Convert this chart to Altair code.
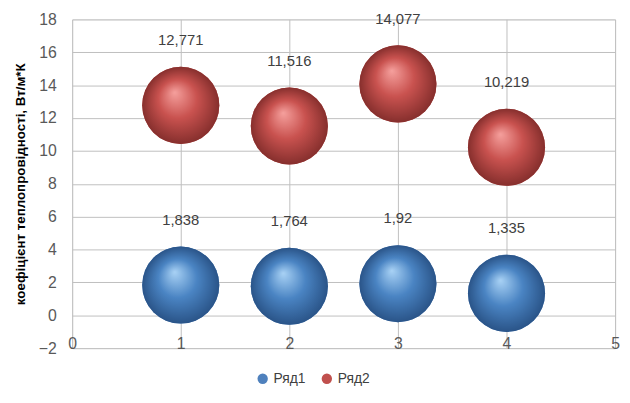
import altair as alt
import pandas as pd

x_vals = [1, 2, 3, 4]
series1 = [1.838, 1.764, 1.92, 1.335]
series2 = [12.771, 11.516, 14.077, 10.219]
series_names = ["Ряд1", "Ряд2"]
colors = ["#4f81bd", "#c0504d"]
y_ticks = [-2, 0, 2, 4, 6, 8, 10, 12, 14, 16, 18]
x_ticks = [0, 1, 2, 3, 4, 5]

rows = []
for name, vals in zip(series_names, [series1, series2]):
    for x, v in zip(x_vals, vals):
        rows.append({"x": x, "y": v, "series": name, "label": f"{v:g}".replace(".", ",")})
df = pd.DataFrame(rows)

FONT = "Liberation Sans"
SIZE = 6100

def grad(light, mid, dark):
    return {
        "gradient": "radial",
        "x1": 0.42, "y1": 0.33, "r1": 0.0,
        "x2": 0.5, "y2": 0.5, "r2": 0.5,
        "stops": [
            {"offset": 0.0, "color": light},
            {"offset": 0.5, "color": mid},
            {"offset": 1.0, "color": dark},
        ],
    }

xs = alt.X("x:Q", scale=alt.Scale(domain=[0, 5], nice=False),
           axis=alt.Axis(values=x_ticks, tickCount=len(x_ticks), format="d", title=None, ticks=False,
                         labelBaseline="alphabetic", labelPadding=0, labelOverlap=False,
                         labelFontSize=16, labelColor="#595959", labelFont=FONT,
                         domain=False, grid=True, gridColor="#bfbfbf",
                         labelFlush=False))
ys = alt.Y("y:Q", scale=alt.Scale(domain=[-2, 18], nice=False),
           axis=alt.Axis(values=y_ticks, tickCount=len(y_ticks), format="d", ticks=False, labelPadding=16,
                         labelOverlap=False, labelFlush=False,
                         labelFontSize=16, labelColor="#595959", labelFont=FONT,
                         domain=False, grid=True, gridColor="#bfbfbf",
                         title="коефіцієнт теплопровідності, Вт/м*К",
                         titleFont=FONT, titleFontSize=13.5, titleFontWeight="bold",
                         titleColor="#000000", titlePadding=11))

base = alt.Chart(df).mark_circle(size=SIZE, opacity=1).encode(
    x=xs, y=ys,
    color=alt.Color("series:N", scale=alt.Scale(domain=series_names, range=colors),
                    legend=alt.Legend(title=None, orient="none", direction="horizontal",
                                      legendX=186, legendY=357, symbolType="circle",
                                      symbolSize=110, labelFont=FONT, labelFontSize=14,
                                      labelColor="#404040", columnPadding=14,
                                      symbolOpacity=1)),
)

blue = alt.Chart(df[df.series == "Ряд1"]).mark_circle(
    size=SIZE, opacity=1, fill=grad("#a9d2f5", "#4a84c3", "#2a5488")).encode(x="x:Q", y="y:Q")
red = alt.Chart(df[df.series == "Ряд2"]).mark_circle(
    size=SIZE, opacity=1, fill=grad("#f5a09d", "#c9524f", "#862f2d")).encode(x="x:Q", y="y:Q")

labels = alt.Chart(df).mark_text(dy=-66, font=FONT, fontSize=15, color="#404040").encode(
    x="x:Q", y="y:Q", text="label:N")

chart = alt.layer(base, blue, red, labels).properties(
    width=550, height=333, autosize="none",
    padding={"left": 65, "top": 9, "right": 7, "bottom": 53},
).configure_view(stroke=None).configure(background="white")

chart.save("out.html", embed_options={"renderer": "svg", "actions": False})
